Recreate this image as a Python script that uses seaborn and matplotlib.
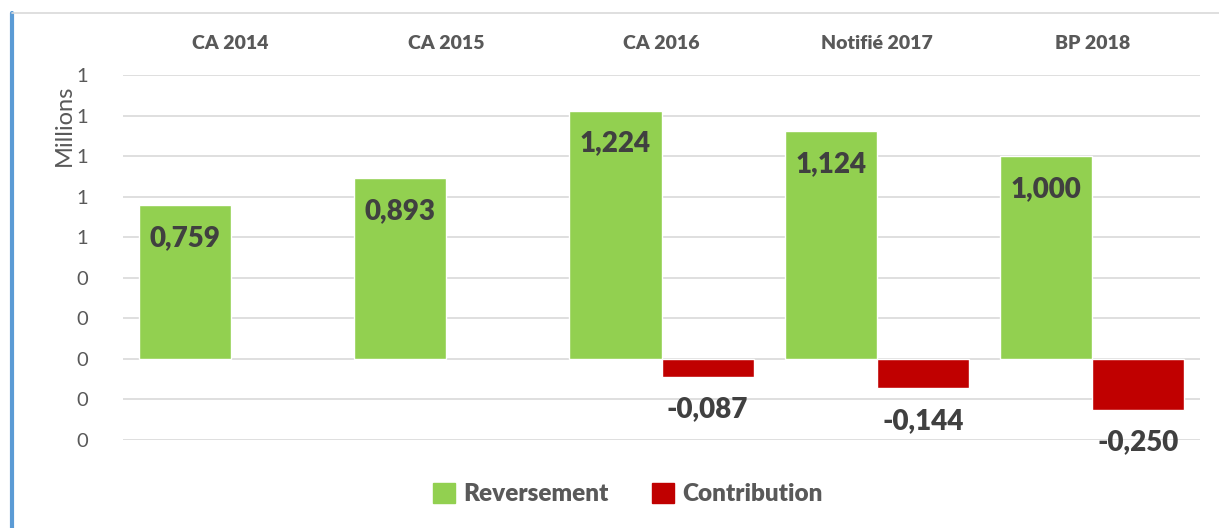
import numpy as np
import pandas as pd
import matplotlib
matplotlib.use("Agg")
import matplotlib.pyplot as plt
from matplotlib.lines import Line2D
from matplotlib.patches import Patch
import seaborn as sns

categories = ["CA 2014", "CA 2015", "CA 2016", "Notifié 2017", "BP 2018"]
reversement = [0.759, 0.893, 1.224, 1.124, 1.000]
contribution = [None, None, -0.087, -0.144, -0.250]
series_names = ["Reversement", "Contribution"]
yticks = [-0.4, -0.2, 0.0, 0.2, 0.4, 0.6, 0.8, 1.0, 1.2, 1.4]

GREEN = "#92D050"
RED = "#C00000"

rows = []
for c, r, k in zip(categories, reversement, contribution):
    rows.append({"cat": c, "series": series_names[0], "val": r})
    rows.append({"cat": c, "series": series_names[1], "val": np.nan if k is None else k})
df = pd.DataFrame(rows)

sns.set_theme(style="white")
plt.rcParams["font.family"] = ["Lato", "DejaVu Sans"]

fig = plt.figure(figsize=(12.19, 5.28), dpi=100)
ax = fig.add_axes([123 / 1219, 88 / 528, 1077 / 1219, 365 / 528])

sns.barplot(data=df, x="cat", y="val", hue="series", order=categories,
            hue_order=series_names, palette=[GREEN, RED], width=0.856,
            errorbar=None, ax=ax, legend=False, saturation=1, zorder=3)

ax.set_ylim(-0.4, 1.4)
ax.set_xlim(-0.5, len(categories) - 0.5)
ax.set_yticks(yticks)
ax.set_yticklabels([f"{int(round(v))}" for v in yticks], color="#595959", fontsize=14.5)
ax.yaxis.grid(True, color="#D9D9D9", linewidth=1.2, zorder=0)
ax.set_axisbelow(True)
for s in ax.spines.values():
    s.set_visible(False)
ax.tick_params(axis="y", length=0, pad=25)
ax.xaxis.tick_top()
ax.tick_params(axis="x", length=0, pad=16.5)
for lbl in ax.get_xticklabels():
    lbl.set_fontweight("heavy")
    lbl.set_color("#595959")
    lbl.set_fontsize(14)
ax.set_xlabel("")
ax.set_ylabel("Millions", color="#595959", fontsize=17, labelpad=2)
ax.yaxis.set_label_coords(-0.045, 0.862)

# value labels
off = 0.162
for i, v in enumerate(reversement):
    ax.text(i - 0.214, v - off, f"{v:.3f}".replace(".", ","), ha="center", va="center",
            fontsize=20, fontweight="heavy", color="#404040", zorder=5)
for i, v in enumerate(contribution):
    if v is None:
        continue
    ax.text(i + 0.214, v - off, f"{v:.3f}".replace(".", ","), ha="center", va="center",
            fontsize=20, fontweight="heavy", color="#404040", zorder=5)

handles = [Patch(color=GREEN), Patch(color=RED)]
leg = fig.legend(handles, series_names, loc="center", bbox_to_anchor=(0.515, 0.064),
                 ncol=2, frameon=False, handlelength=0.9, handleheight=0.9,
                 columnspacing=1.8, handletextpad=0.35,
                 prop={"size": 17.5, "weight": "heavy"})
for t in leg.get_texts():
    t.set_color("#595959")

# frame decorations
fig.add_artist(Line2D([12 / 1219, 12 / 1219], [0, 1 - 13 / 528], color="#5B9BD5", linewidth=3))
fig.add_artist(Line2D([12 / 1219, 1], [1 - 13 / 528, 1 - 13 / 528], color="#D9D9D9", linewidth=1.2))

fig.savefig("out.png", dpi=100)
